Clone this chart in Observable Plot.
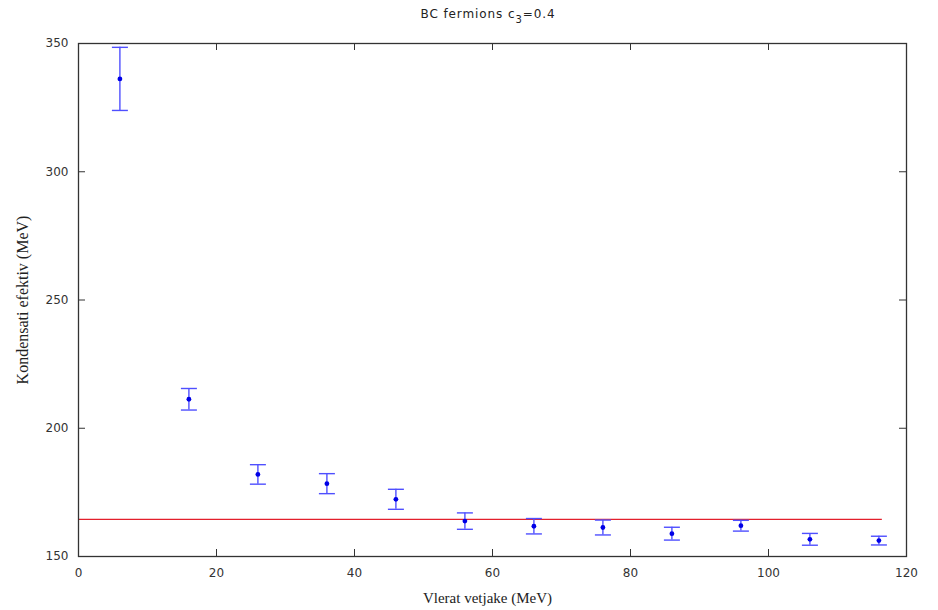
<!DOCTYPE html>
<html><head><meta charset="utf-8">
<script src="https://cdn.jsdelivr.net/npm/d3@7"></script>
<script src="https://cdn.jsdelivr.net/npm/@observablehq/plot@0.6"></script>
<style>body{margin:0;background:#fff}#chart{width:938px;height:610px}</style>
</head><body><div id="chart"></div>
<script>
const xValues = [6, 16, 26, 36, 46, 56, 66, 76, 86, 96, 106, 116];
const yValues = [336.2, 211.3, 182.0, 178.4, 172.3, 163.8, 161.8, 161.3, 158.9, 162.0, 156.7, 156.2];
const yErrors = [12.3, 4.2, 3.8, 3.9, 3.9, 3.2, 3.0, 2.9, 2.5, 2.1, 2.3, 1.7];
const fitLevel = 164.5;
const fitRange = [0, 116.5];
const xTicks = [0, 20, 40, 60, 80, 100, 120];
const yTicks = [150, 200, 250, 300, 350];
const xLabel = "Vlerat vetjake (MeV)";
const yLabel = "Kondensati efektiv (MeV)";

const data = xValues.map((x, i) => ({x, y: yValues[i], lo: yValues[i] - yErrors[i], hi: yValues[i] + yErrors[i]}));

const W = 938, H = 610, mL = 78, mR = 32, mT = 43, mB = 54;
const pw = W - mL - mR, ph = H - mT - mB, tk = 7;
const inner = a => a.slice(1, -1);
const cap = {draw(ctx, size) { const w = Math.sqrt(size / Math.PI); ctx.moveTo(-w, 0); ctx.lineTo(w, 0); }};
const barColor = "#4f4fff";

const plot = Plot.plot({
  width: W, height: H,
  marginLeft: mL, marginRight: mR, marginTop: mT, marginBottom: mB,
  style: {fontFamily: "DejaVu Sans", fontSize: "12px", color: "#333", background: "#fff"},
  x: {domain: [0, 120], ticks: xTicks, tickSize: 0, tickPadding: 12, label: null},
  y: {domain: [150, 350], ticks: yTicks, tickSize: 0, tickPadding: 10, label: null},
  marks: [
    Plot.ruleY([fitLevel], {x1: fitRange[0], x2: fitRange[1], stroke: "#e3202c", strokeWidth: 1.3}),
    Plot.ruleX(data, {x: "x", y1: "lo", y2: "hi", stroke: barColor, strokeWidth: 1.4}),
    Plot.dot(data, {x: "x", y: "hi", symbol: cap, r: 8, stroke: barColor, strokeWidth: 1.4, fill: "none"}),
    Plot.dot(data, {x: "x", y: "lo", symbol: cap, r: 8, stroke: barColor, strokeWidth: 1.4, fill: "none"}),
    Plot.dot(data, {x: "x", y: "y", r: 2.4, fill: "#0000e6", stroke: "none"}),
    Plot.ruleX(inner(xTicks), {insetTop: ph - tk, stroke: "#333"}),
    Plot.ruleX(inner(xTicks), {insetBottom: ph - tk, stroke: "#333"}),
    Plot.ruleY(inner(yTicks), {insetRight: pw - tk, stroke: "#333"}),
    Plot.ruleY(inner(yTicks), {insetLeft: pw - tk, stroke: "#333"}),
    Plot.frame({stroke: "#333", strokeWidth: 1.3}),
    Plot.text([xLabel], {text: d => d, frameAnchor: "bottom", textAnchor: "middle", dx: -5, dy: 46, fontFamily: "Liberation Serif", fontSize: 15, fill: "#222"}),
    Plot.text([yLabel], {text: d => d, frameAnchor: "left", textAnchor: "middle", rotate: -90, dx: -56, fontFamily: "Liberation Serif", fontSize: 16, fill: "#222"})
  ]
});
document.getElementById("chart").appendChild(plot);

const svg = d3.select(plot);
const t = svg.append("text").attr("x", mL + pw / 2 - 4).attr("y", 18).attr("text-anchor", "middle")
  .attr("font-family", "DejaVu Sans").attr("font-size", 12).attr("letter-spacing", 0.9).attr("fill", "#222");
t.append("tspan").text("BC fermions c");
t.append("tspan").attr("dy", 5).attr("font-size", 10).text("3");
t.append("tspan").attr("dy", -5).text("=0.4");
</script>
</body></html>
